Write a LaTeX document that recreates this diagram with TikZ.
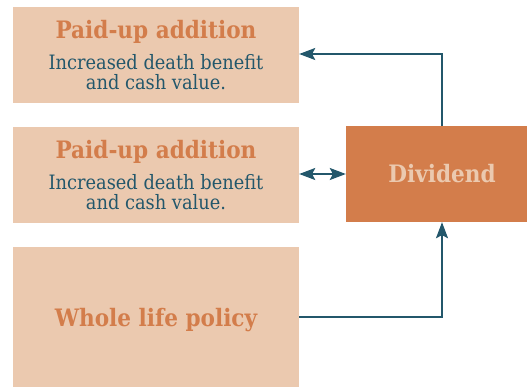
\documentclass[tikz,border=0pt]{standalone}
\usepackage{fontspec}
\setmainfont{DejaVu Serif Condensed}
\usetikzlibrary{arrows.meta}
\definecolor{peach}{HTML}{EBC9AF}
\definecolor{rust}{HTML}{D37D4B}
\definecolor{teal}{HTML}{23576B}
\def\headfont{\fontsize{24}{28}\selectfont\bfseries}
\def\bodyfont{\fontsize{19.8}{20}\selectfont}
\tikzset{
	box/.style={fill=peach, minimum width=286pt, align=center, inner sep=0pt, text=teal, font=\bodyfont},
	divbox/.style={fill=rust, minimum width=192pt, minimum height=96pt, inner sep=0pt, text=peach, font=\headfont},
	link/.style={draw=teal, line width=1.5pt, -{Stealth[length=16pt, width=12pt, inset=3pt]}}
}

\begin{document}
\begin{tikzpicture}[x=1pt, y=-1pt]
			%%%%% START %%%%%
			
			\useasboundingbox (0, 0) rectangle (527, 386);
			
			\node[box, minimum height=96pt] (pua1) at (156, 55) {{\headfont\color{rust}Paid-up addition}\\[10pt]Increased death benefit\\and cash value.};
			\node[box, minimum height=96pt] (pua2) at (156, 175) {{\headfont\color{rust}Paid-up addition}\\[10pt]Increased death benefit\\and cash value.};
			\node[box, minimum height=140pt, text=rust, font=\headfont, text depth=0pt] (policy) at (156, 317) {Whole life policy};
			
			\node[divbox] (div) at (442, 174) {Dividend};
			
			\draw[link] (div.north) |- ([yshift=1pt]pua1.east);
			\draw[link, {Stealth[length=16pt, width=12pt, inset=3pt]}-{Stealth[length=16pt, width=12pt, inset=3pt]}] (pua2.east |- div.west) -- (div.west);
			\draw[link] (policy.east) -| (div.south);
			
			%%%%% END %%%%%
\end{tikzpicture}
\end{document}
